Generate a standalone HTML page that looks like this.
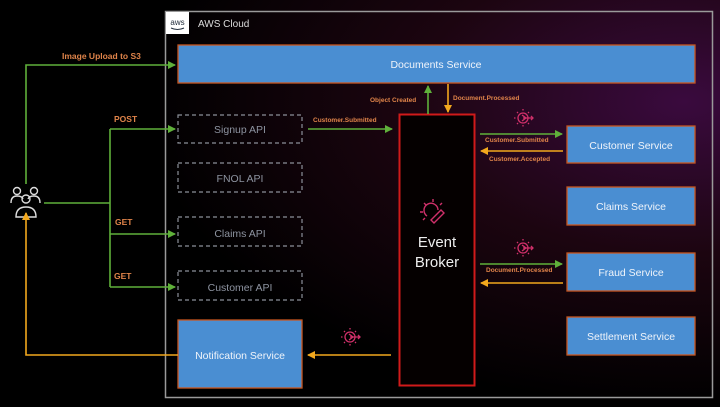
<!DOCTYPE html>
<html><head><meta charset="utf-8"><style>
html,body{margin:0;padding:0;width:720px;height:407px;overflow:hidden;background:#000}
svg{display:block}
text{font-family:"Liberation Sans",sans-serif}
</style></head><body>
<svg width="720" height="407" viewBox="0 0 720 407" xmlns="http://www.w3.org/2000/svg">
<defs>
<radialGradient id="bg" cx="0.95" cy="0.25" r="0.75">
<stop offset="0" stop-color="#3a0a3e"/>
<stop offset="0.5" stop-color="#1c0510"/>
<stop offset="1" stop-color="#000"/>
</radialGradient>
<marker id="ag" markerWidth="8" markerHeight="8" refX="7" refY="4" orient="auto" markerUnits="userSpaceOnUse"><path d="M0,0 L8,4 L0,8 z" fill="#5fb03a"/></marker>
<marker id="ay" markerWidth="8" markerHeight="8" refX="7" refY="4" orient="auto" markerUnits="userSpaceOnUse"><path d="M0,0 L8,4 L0,8 z" fill="#f2a81d"/></marker>
<g id="ev" fill="none" stroke="#d0306a" stroke-width="1.3">
<circle cx="0" cy="0" r="5"/><path d="M-1,-3 L3,0 L-1,3 M0,0 L10,0 M8,-2 L10,0 L8,2"/>
<path d="M0,-9 V-7 M0,7 V9 M-9,0 H-7 M-6,-6 L-5,-5 M-6,6 L-5,5 M6,-6 L5,-5 M6,6 L5,5" stroke-dasharray="1.5 1"/>
</g>
</defs>
<rect width="720" height="407" fill="url(#bg)"/>
<rect x="0" y="0" width="160" height="407" fill="#000" opacity="0.6"/>
<rect x="165.5" y="11.5" width="547" height="386" fill="none" stroke="#9a9a9a" stroke-width="1.5"/>
<rect x="166" y="12" width="23" height="22" fill="#fff"/>
<text x="177.5" y="25" font-size="8" fill="#232f3e" text-anchor="middle">aws</text>
<path d="M171,28 q6.5,3 13,0" stroke="#232f3e" fill="none" stroke-width="1"/>
<text x="198" y="27" font-size="10" fill="#ddd">AWS Cloud</text>
<g fill="#4a8ed2" stroke="#c8561f" stroke-width="1.3">
<rect x="178" y="45" width="517" height="38"/>
<rect x="178" y="320" width="124" height="68"/>
<rect x="567" y="126" width="128" height="37"/>
<rect x="567" y="187" width="128" height="38"/>
<rect x="567" y="253" width="128" height="38"/>
<rect x="567" y="317" width="128" height="38"/>
</g>
<g font-size="10.5" fill="#f0f4fa" text-anchor="middle">
<text x="436" y="68">Documents Service</text>
<text x="240" y="359">Notification Service</text>
<text x="631" y="149">Customer Service</text>
<text x="631" y="210">Claims Service</text>
<text x="631" y="276">Fraud Service</text>
<text x="631" y="340">Settlement Service</text>
</g>
<g fill="none" stroke="#8b8f99" stroke-width="1.2" stroke-dasharray="4 3">
<rect x="178" y="115" width="124" height="28"/>
<rect x="178" y="163" width="124" height="29"/>
<rect x="178" y="217" width="124" height="29"/>
<rect x="178" y="271" width="124" height="29"/>
</g>
<g font-size="10.5" fill="#8d93a0" text-anchor="middle">
<text x="240" y="133">Signup API</text>
<text x="240" y="182">FNOL API</text>
<text x="240" y="237">Claims API</text>
<text x="240" y="291">Customer API</text>
</g>
<rect x="399.5" y="114.5" width="75" height="271" fill="#050000" stroke="#d01a1a" stroke-width="2"/>
<g transform="translate(433,212)" fill="none" stroke="#d0306a" stroke-width="1.4">
<path d="M-6,4 a7,7 0 1 1 11,-6"/><path d="M-2,8 L8,-2 L11,1 L1,11 z"/>
<path d="M0,-13 V-10 M-9,-9 L-7,-7 M9,-9 L7,-7 M-13,0 H-10 M-10,8 L-8,6"/>
</g>
<text x="437" y="247" font-size="15" fill="#eee" text-anchor="middle">Event</text>
<text x="437" y="267" font-size="15" fill="#eee" text-anchor="middle">Broker</text>
<g fill="none" stroke="#ddd" stroke-width="1.4">
<circle cx="17" cy="191" r="3.5"/><circle cx="34" cy="191" r="3.5"/>
<path d="M11,203 q0,-7 6,-7 q5,0 6,3 M40,203 q0,-7 -6,-7 q-5,0 -6,3"/>
<circle cx="26" cy="199" r="4"/><path d="M16,217 q0,-10 10,-10 q10,0 10,10 z"/>
</g>
<g fill="none" stroke="#5fb03a" stroke-width="1.6">
<path d="M26,184 V65 H175" marker-end="url(#ag)"/>
<path d="M44,203 H110 M110,129 V287"/>
<path d="M110,129 H175" marker-end="url(#ag)"/>
<path d="M110,234 H175" marker-end="url(#ag)"/>
<path d="M110,287 H175" marker-end="url(#ag)"/>
<path d="M308,129 H392" marker-end="url(#ag)"/>
<path d="M428,114 V86" marker-end="url(#ag)"/>
<path d="M480,134 H562" marker-end="url(#ag)"/>
<path d="M480,264 H562" marker-end="url(#ag)"/>
</g>
<g fill="none" stroke="#f2a81d" stroke-width="1.6">
<path d="M448,84 V112" marker-end="url(#ay)"/>
<path d="M563,151 H481" marker-end="url(#ay)"/>
<path d="M563,283 H481" marker-end="url(#ay)"/>
<path d="M391,355 H308" marker-end="url(#ay)"/>
<path d="M178,355 H26 V213" marker-end="url(#ay)"/>
</g>
<g font-size="7.5" font-weight="bold" fill="#e0844a">
<text x="62" y="59" font-size="8.5">Image Upload to S3</text>
<text x="114" y="122" font-size="8.5">POST</text>
<text x="115" y="225" font-size="8.5">GET</text>
<text x="114" y="279" font-size="8.5">GET</text>
<text x="313" y="122" font-size="6.5">Customer.Submitted</text>
<text x="370" y="102" font-size="6.5">Object Created</text>
<text x="453" y="100" font-size="6.5">Document.Processed</text>
<text x="485" y="142" font-size="6.5">Customer.Submitted</text>
<text x="489" y="161" font-size="6.5">Customer.Accepted</text>
<text x="486" y="272" font-size="6.5">Document.Processed</text>
</g>
<use href="#ev" x="523" y="118"/>
<use href="#ev" x="523" y="248"/>
<use href="#ev" x="350" y="337"/>
</svg>
</body></html>
